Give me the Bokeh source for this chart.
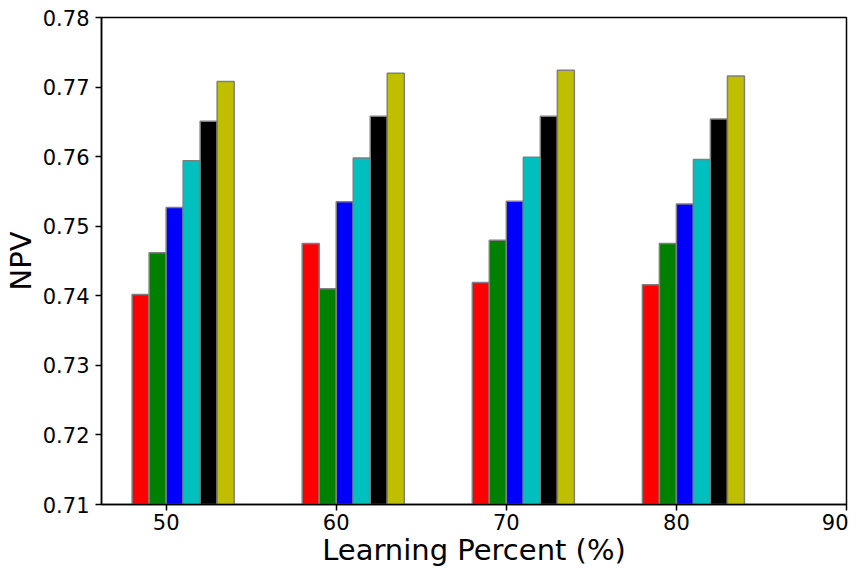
from bokeh.plotting import figure
from bokeh.models import Range1d, FixedTicker, CustomJSTickFormatter, ColumnDataSource
from bokeh.embed import file_html
from bokeh.resources import INLINE

learning_percent = [50, 60, 70, 80]
series_names = ["M1", "M2", "M3", "M4", "M5", "M6"]
series_colors = ["#ff0000", "#008000", "#0000ff", "#00bfbf", "#000000", "#bfbf00"]
npv_m1 = [0.7402, 0.7475, 0.7419, 0.7416]
npv_m2 = [0.7462, 0.7410, 0.7480, 0.7475]
npv_m3 = [0.7527, 0.7535, 0.7536, 0.7532]
npv_m4 = [0.7594, 0.7598, 0.7599, 0.7596]
npv_m5 = [0.7651, 0.7658, 0.7658, 0.7654]
npv_m6 = [0.7708, 0.7720, 0.7724, 0.7716]
series_values = [npv_m1, npv_m2, npv_m3, npv_m4, npv_m5, npv_m6]
x_ticks = [50, 60, 70, 80, 90]
y_ticks = [0.71, 0.72, 0.73, 0.74, 0.75, 0.76, 0.77, 0.78]

FONT = "DejaVu Sans"

p = figure(width=848, height=569, output_backend="svg", toolbar_location=None,
           x_range=Range1d(46.2, 90), y_range=Range1d(0.71, 0.78),
           min_border_left=92, min_border_top=17, min_border_bottom=58, min_border_right=2)

bar_width = 1.0
for i, (name, color, vals) in enumerate(zip(series_names, series_colors, series_values)):
    offset = (i - 1.5) * bar_width
    src = ColumnDataSource(dict(x=[lp + offset for lp in learning_percent], top=vals))
    p.vbar(x="x", top="top", bottom=0, width=bar_width, source=src,
           fill_color=color, line_color="#7f7f7f", line_width=1.5)

p.xgrid.visible = False
p.ygrid.visible = False
p.outline_line_color = "black"
p.outline_line_width = 1.5
p.background_fill_color = "white"

p.xaxis.ticker = FixedTicker(ticks=x_ticks)
p.yaxis.ticker = FixedTicker(ticks=y_ticks)
p.yaxis.formatter = CustomJSTickFormatter(code="return tick.toFixed(2);")

for ax in (p.xaxis, p.yaxis):
    ax.axis_line_color = "black"
    ax.axis_line_width = 1.5
    ax.major_tick_line_color = "black"
    ax.major_tick_line_width = 1.5
    ax.major_tick_in = 0
    ax.major_tick_out = 6
    ax.minor_tick_line_color = None
    ax.major_label_text_font = FONT
    ax.major_label_text_font_size = "21px"
    ax.major_label_text_color = "black"
    ax.axis_label_text_font = FONT
    ax.axis_label_text_font_size = "29px"
    ax.axis_label_text_font_style = "normal"
    ax.axis_label_text_color = "black"

p.xaxis.axis_label = "Learning Percent (%)"
p.yaxis.axis_label = "NPV"
p.xaxis.major_label_standoff = 3
p.yaxis.major_label_standoff = 6
p.xaxis.axis_label_standoff = 0
p.yaxis.axis_label_standoff = 2

open("out.html", "w").write(file_html(p, INLINE))
